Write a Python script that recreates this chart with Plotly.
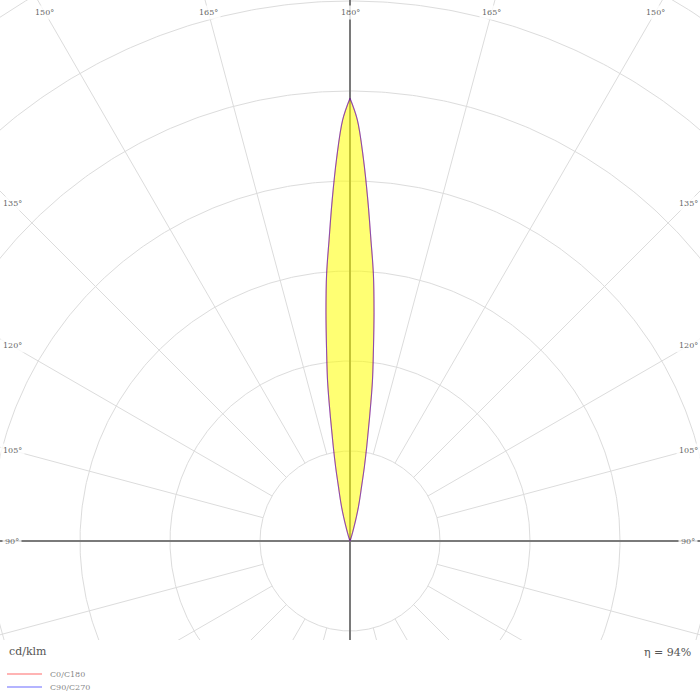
import numpy as np
import plotly.graph_objects as go

# luminous intensity distribution (cd/klm) vs gamma angle
gamma = [0, 90, 150, 155, 160, 162, 163, 164, 165, 166, 167, 168, 169, 170,
         171, 172, 173, 174, 175, 176, 177, 178, 179, 180]
c0_c180 = [0, 0, 0, 10, 45, 110, 200, 330, 530, 760, 980, 1240, 1670, 2160,
           2780, 3580, 4270, 5110, 5960, 6690, 7580, 8510, 9360, 9840]
c90_c270 = [0, 0, 0, 10, 45, 110, 200, 330, 530, 760, 980, 1240, 1670, 2160,
            2780, 3580, 4270, 5110, 5960, 6690, 7580, 8510, 9360, 9840]
ring_step = 2000
ring_count = 7
spoke_step = 15
efficiency = "η = 94%"
unit_label = "cd/klm"
legend_names = ["C0/C180", "C90/C270"]

# plot area is 700 x 640 px, pole at (350, 541) px; one ring = 90 px
px = ring_step / 90.0
x_range = [-350 * px, 350 * px]
y_range = [-99 * px, 541 * px]

FONT = "DejaVu Serif"
GRID = "#dcdcdc"
AXIS = "#7a7a7a"


def half_curve(g, vals, side):
    g = np.radians(np.array(g, dtype=float))
    v = np.array(vals, dtype=float)
    return side * v * np.sin(g), -v * np.cos(g)


def plane(vals):
    # C0 on the right, C180 mirrored on the left
    xr, yr = half_curve(gamma, vals, 1)
    xl, yl = half_curve(gamma[::-1], vals[::-1], -1)
    return np.concatenate([xr, xl]), np.concatenate([yr, yl])


fig = go.Figure()

# rings
t = np.linspace(0, 2 * np.pi, 721)
cx, cy = [], []
for k in range(1, ring_count + 1):
    cx += list(k * ring_step * np.cos(t)) + [None]
    cy += list(k * ring_step * np.sin(t)) + [None]
fig.add_trace(go.Scatter(x=cx, y=cy, mode="lines", line=dict(color=GRID, width=1),
                         hoverinfo="skip", showlegend=False))

# spokes starting at the first ring
sx, sy = [], []
for a in range(0, 360, spoke_step):
    if a % 90 == 0:
        continue
    r = np.radians(a)
    sx += [ring_step * np.cos(r), 20 * ring_step * np.cos(r), None]
    sy += [ring_step * np.sin(r), 20 * ring_step * np.sin(r), None]
fig.add_trace(go.Scatter(x=sx, y=sy, mode="lines", line=dict(color=GRID, width=1),
                         hoverinfo="skip", showlegend=False))

# main axes
big = 40 * ring_step
fig.add_trace(go.Scatter(x=[-big, big, None, 0, 0], y=[0, 0, None, -big, big], mode="lines",
                         line=dict(color=AXIS, width=2), hoverinfo="skip", showlegend=False))

# lobe fill + curves
fx, fy = plane(c0_c180)
fig.add_trace(go.Scatter(x=fx, y=fy, mode="lines", fill="toself",
                         fillcolor="rgba(255,255,0,0.55)", line=dict(width=0, shape="spline"),
                         hoverinfo="skip", showlegend=False))
x1, y1 = plane(c0_c180)
fig.add_trace(go.Scatter(x=x1, y=y1, mode="lines", name=legend_names[0],
                         line=dict(color="rgba(255,0,0,0.45)", width=1.1, shape="spline"),
                         showlegend=False))
x2, y2 = plane(c90_c270)
fig.add_trace(go.Scatter(x=x2, y=y2, mode="lines", name=legend_names[1],
                         line=dict(color="rgba(0,0,255,0.45)", width=1.1, shape="spline"),
                         showlegend=False))

# angle labels, placed on each spoke 12 px inside the frame
annotations = []
for off in range(0, 91, spoke_step):
    for side in ([1] if off == 0 else [-1, 1]):
        a = np.radians(off)
        dx, dy = side * np.sin(a), np.cos(a)
        lim_y = (541 - 12) * px
        lim_x = (350 - 12) * px
        s = min(lim_y / dy if dy > 1e-9 else 1e12, lim_x / abs(dx) if abs(dx) > 1e-9 else 1e12)
        annotations.append(dict(x=s * dx, y=s * dy, xref="x", yref="y", text=f"{180 - off}°",
                                showarrow=False, font=dict(family=FONT, size=8, color="#666666"),
                                bgcolor="rgba(255,255,255,0.8)", borderpad=2))

annotations.append(dict(x=7 / 700, y=(640 - 651) / 640, xref="paper", yref="paper", text=unit_label,
                        xanchor="left", yanchor="middle", showarrow=False,
                        font=dict(family=FONT, size=11, color="#555555")))
annotations.append(dict(x=693 / 700, y=(640 - 652) / 640, xref="paper", yref="paper", text=efficiency,
                        xanchor="right", yanchor="middle", showarrow=False,
                        font=dict(family=FONT, size=11, color="#555555")))

# legend drawn by hand
shapes = []
for i, (name, col) in enumerate(zip(legend_names, ["#ffb4b4", "#b4b4ff"])):
    ypix = 674 + 13 * i
    yp = (640 - ypix) / 640
    shapes.append(dict(type="line", xref="paper", yref="paper", x0=7 / 700, x1=42 / 700,
                       y0=yp, y1=yp, line=dict(color=col, width=2)))
    annotations.append(dict(x=48 / 700, y=yp, xref="paper", yref="paper", text=name,
                            xanchor="left", yanchor="middle", showarrow=False,
                            font=dict(family=FONT, size=8, color="#888888")))

fig.update_layout(
    width=700, height=700,
    margin=dict(l=0, r=0, t=0, b=60),
    paper_bgcolor="white", plot_bgcolor="white",
    xaxis=dict(range=x_range, visible=False, fixedrange=True),
    yaxis=dict(range=y_range, visible=False, fixedrange=True),
    annotations=annotations,
    shapes=shapes,
    showlegend=False,
)

fig.write_html("out.html", config={"displayModeBar": False},
               post_script="document.body.style.margin='0';")
